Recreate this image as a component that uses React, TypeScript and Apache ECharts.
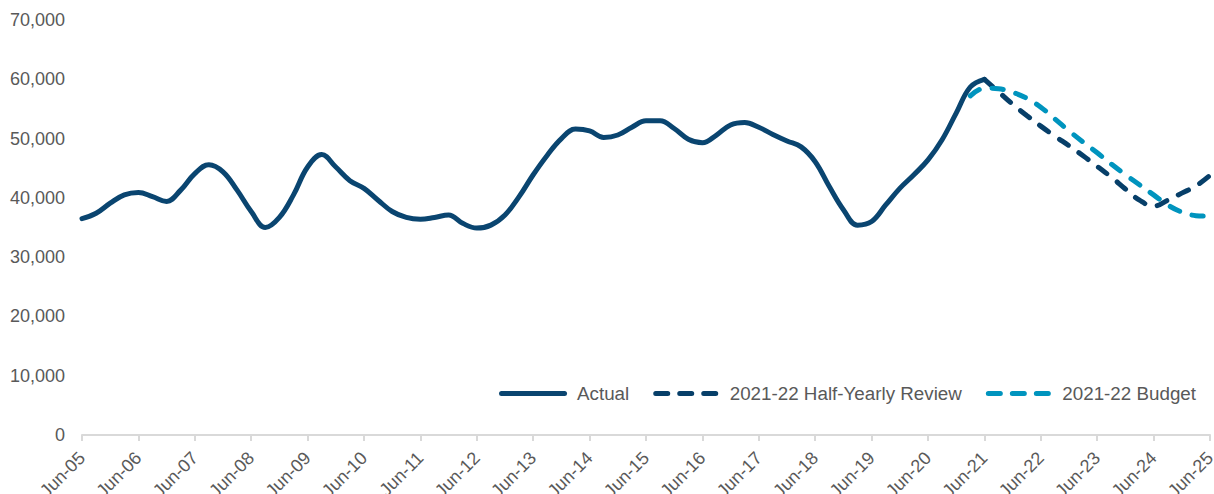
import React, { useEffect, useRef } from "react";
import * as echarts from "echarts";

const categories: string[] = [
  "Jun-05", "Sep-05", "Dec-05", "Mar-06",
  "Jun-06", "Sep-06", "Dec-06", "Mar-07",
  "Jun-07", "Sep-07", "Dec-07", "Mar-08",
  "Jun-08", "Sep-08", "Dec-08", "Mar-09",
  "Jun-09", "Sep-09", "Dec-09", "Mar-10",
  "Jun-10", "Sep-10", "Dec-10", "Mar-11",
  "Jun-11", "Sep-11", "Dec-11", "Mar-12",
  "Jun-12", "Sep-12", "Dec-12", "Mar-13",
  "Jun-13", "Sep-13", "Dec-13", "Mar-14",
  "Jun-14", "Sep-14", "Dec-14", "Mar-15",
  "Jun-15", "Sep-15", "Dec-15", "Mar-16",
  "Jun-16", "Sep-16", "Dec-16", "Mar-17",
  "Jun-17", "Sep-17", "Dec-17", "Mar-18",
  "Jun-18", "Sep-18", "Dec-18", "Mar-19",
  "Jun-19", "Sep-19", "Dec-19", "Mar-20",
  "Jun-20", "Sep-20", "Dec-20", "Mar-21",
  "Jun-21", "Sep-21", "Dec-21", "Mar-22",
  "Jun-22", "Sep-22", "Dec-22", "Mar-23",
  "Jun-23", "Sep-23", "Dec-23", "Mar-24",
  "Jun-24", "Sep-24", "Dec-24", "Mar-25",
  "Jun-25",
];

const actual: (number | null)[] = [
  36500, 37400, 39100, 40500,
  40900, 40200, 39400, 41300,
  44100, 45600, 44400, 41300,
  37700, 35000, 36700, 40500,
  45200, 47300, 45200, 42900,
  41600, 39600, 37700, 36700,
  36400, 36700, 37100, 35700,
  34900, 35400, 37100, 40200,
  43900, 47200, 50000, 51600,
  51300, 50200, 50600, 51900,
  53000, 53000, 51700, 49900,
  49300, 50600, 52300, 52700,
  51900, 50700, 49600, 48600,
  46100, 41900, 38000, 35400,
  36000, 38800, 41600, 43900,
  46400, 49800, 54300, 58700,
  60000,
];

const halfYearlyReview: (number | null)[] = [
  ...new Array(64).fill(null),
  60000, 57900, 55800, 53900,
  52100, 50400, 48800, 47100,
  45300, 43500, 41500, 39600,
  38600, 39600, 40800, 42000,
  43800,
];

const budget: (number | null)[] = [
  ...new Array(63).fill(null),
  57200,
  58500, 58400, 57800, 56800,
  55300, 53300, 51300, 49400,
  47600, 45700, 43900, 42200,
  40500, 38800, 37600, 37000,
  36900,
];

const seriesNames = ["Actual", "2021-22 Half-Yearly Review", "2021-22 Budget"];
const yTicks = { min: 0, max: 70000, interval: 10000 };

const FONT = "'Liberation Sans', Arial, sans-serif";
const GREY = "#595959";
const C_ACTUAL = "#0A4570";
const C_REVIEW = "#073F69";
const C_BUDGET = "#0094BE";

function dash(a: number, len: number): string {
  const r = 2.5;
  return `M${a + r},0 H${a + len - r} A${r},${r} 0 0 1 ${a + len - r},5 H${a + r} A${r},${r} 0 0 1 ${a + r},0 Z`;
}
const SOLID_ICON = "path://" + dash(0, 68);
const DASH_ICON = "path://" + dash(0, 17) + " " + dash(24, 17) + " " + dash(48, 17);

export default function App() {
  const ref = useRef<HTMLDivElement>(null);

  useEffect(() => {
    document.body.style.margin = "0";
    if (!ref.current) return;
    const chart = echarts.init(ref.current, null, { renderer: "svg" });
    chart.setOption({
      animation: false,
      backgroundColor: "#ffffff",
      textStyle: { fontFamily: FONT },
      grid: {
        left: 82,
        right: 4,
        top: 20,
        bottom: 59,
        containLabel: false,
        outerBoundsMode: "none",
      },
      legend: {
        data: [
          { name: seriesNames[0], icon: SOLID_ICON, itemStyle: { color: C_ACTUAL, borderWidth: 0 } },
          { name: seriesNames[1], icon: DASH_ICON, itemStyle: { color: C_REVIEW, borderWidth: 0 } },
          { name: seriesNames[2], icon: DASH_ICON, itemStyle: { color: C_BUDGET, borderWidth: 0 } },
        ],
        right: 18,
        top: 384,
        padding: 0,
        itemWidth: 68,
        itemHeight: 5,
        itemGap: 24,
        textStyle: { color: GREY, fontSize: 18.8, fontFamily: FONT, padding: [0, 0, 0, 5] },
      },
      xAxis: {
        type: "category",
        data: categories,
        boundaryGap: false,
        axisLine: { lineStyle: { color: "#d9d9d9", width: 2 } },
        axisTick: { interval: 3, length: 6, lineStyle: { color: "#d9d9d9", width: 2 } },
        axisLabel: {
          interval: 3,
          rotate: 45,
          color: GREY,
          fontSize: 18,
          fontFamily: FONT,
          margin: 20,
        },
        splitLine: { show: false },
      },
      yAxis: {
        type: "value",
        min: yTicks.min,
        max: yTicks.max,
        interval: yTicks.interval,
        axisLine: { show: false },
        axisTick: { show: false },
        splitLine: { show: false },
        axisLabel: {
          color: GREY,
          fontSize: 18,
          fontFamily: FONT,
          margin: 17,
          formatter: (v: number) => v.toLocaleString("en-US"),
        },
      },
      series: [
        {
          name: seriesNames[0],
          type: "line",
          data: actual,
          smooth: 0.4,
          symbol: "none",
          color: C_ACTUAL,
          lineStyle: { color: C_ACTUAL, width: 5, cap: "round", join: "round" },
          z: 2,
        },
        {
          name: seriesNames[1],
          type: "line",
          data: halfYearlyReview,
          smooth: 0.4,
          symbol: "none",
          color: C_REVIEW,
          lineStyle: { color: C_REVIEW, width: 5, type: [11, 13], cap: "round" },
          z: 3,
        },
        {
          name: seriesNames[2],
          type: "line",
          data: budget,
          smooth: 0.4,
          symbol: "none",
          color: C_BUDGET,
          lineStyle: { color: C_BUDGET, width: 5, type: [11, 13], cap: "round" },
          z: 4,
        },
      ],
    });
    return () => chart.dispose();
  }, []);

  return (
    <div
      ref={ref}
      style={{ position: "absolute", left: 0, top: 0, width: 1214, height: 494 }}
    />
  );
}
